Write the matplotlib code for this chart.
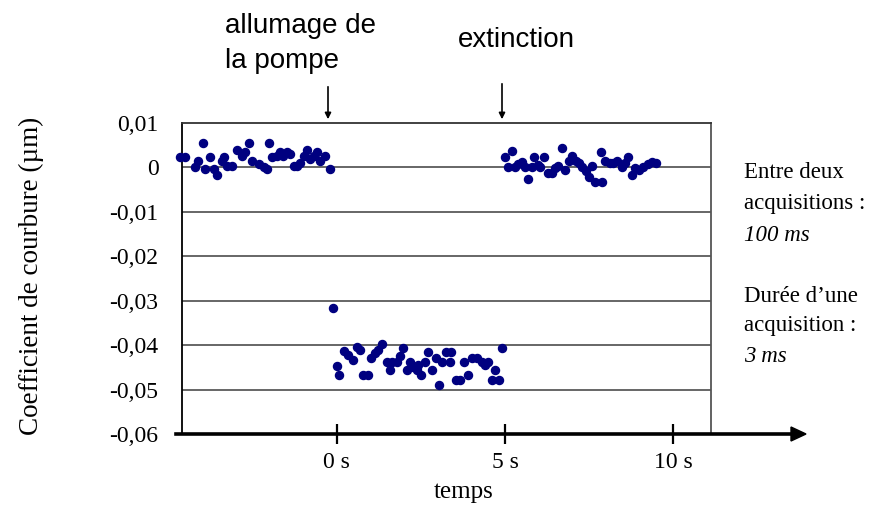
import matplotlib.pyplot as plt
import numpy as np

"""Coefficient de courbure - allumage / extinction de la pompe"""

# avant allumage
t_avant = [-4.67, -4.52, -4.23, -4.12, -4.00, -3.93, -3.78, -3.67, -3.57, -3.42,
           -3.36, -3.27, -3.13, -2.98, -2.83, -2.74, -2.63, -2.53, -2.33, -2.18,
           -2.08, -2.02, -1.93, -1.79, -1.70, -1.59, -1.49, -1.40, -1.29, -1.19,
           -1.10, -0.99, -0.89, -0.80, -0.69, -0.60, -0.51, -0.36, -0.21]
c_avant = [0.0024, 0.0024, 0.0000, 0.0015, 0.0055, -0.0003, 0.0024, -0.0003, -0.0017, 0.0015,
           0.0024, 0.0003, 0.0003, 0.0040, 0.0026, 0.0035, 0.0055, 0.0015, 0.0008, 0.0000,
           -0.0003, 0.0055, 0.0024, 0.0026, 0.0035, 0.0026, 0.0035, 0.0030, 0.0003, 0.0003,
           0.0010, 0.0026, 0.0040, 0.0020, 0.0026, 0.0035, 0.0015, 0.0026, -0.0003]

# pompe allumee
t_pompe = [-0.13, -0.01, 0.06, 0.21, 0.34, 0.49, 0.59, 0.68, 0.78, 0.91,
           1.01, 1.13, 1.23, 1.35, 1.48, 1.58, 1.63, 1.78, 1.88, 1.97,
           2.07, 2.17, 2.26, 2.37, 2.42, 2.50, 2.62, 2.70, 2.82, 2.94,
           3.04, 3.12, 3.26, 3.36, 3.39, 3.53, 3.66, 3.79, 3.91, 4.03,
           4.16, 4.31, 4.40, 4.50, 4.60, 4.70, 4.82, 4.92]
c_pompe = [-0.0316, -0.0446, -0.0468, -0.0414, -0.0423, -0.0433, -0.0405, -0.0412, -0.0468, -0.0468,
           -0.0429, -0.0417, -0.0412, -0.0397, -0.0437, -0.0455, -0.0437, -0.0437, -0.0425, -0.0406,
           -0.0455, -0.0437, -0.0450, -0.0455, -0.0444, -0.0468, -0.0437, -0.0415, -0.0455, -0.0428,
           -0.0489, -0.0438, -0.0415, -0.0438, -0.0415, -0.0478, -0.0478, -0.0438, -0.0467, -0.0428,
           -0.0428, -0.0437, -0.0444, -0.0437, -0.0478, -0.0455, -0.0478, -0.0406]

# apres extinction
t_apres = [5.00, 5.10, 5.20, 5.30, 5.40, 5.50, 5.60, 5.69, 5.79, 5.87,
           5.97, 6.04, 6.17, 6.29, 6.39, 6.49, 6.59, 6.69, 6.79, 6.90,
           7.00, 7.10, 7.20, 7.30, 7.40, 7.50, 7.60, 7.68, 7.86, 7.88,
           7.98, 8.13, 8.22, 8.32, 8.47, 8.57, 8.67, 8.77, 8.87, 8.99,
           9.12, 9.27, 9.38, 9.49]
c_apres = [0.0024, 0.0002, 0.0036, 0.0002, 0.0008, 0.0013, 0.0002, -0.0027, 0.0002, 0.0024,
           0.0006, 0.0002, 0.0024, -0.0013, -0.0013, -0.0002, 0.0003, 0.0043, -0.0006, 0.0015,
           0.0026, 0.0015, 0.0011, 0.0002, -0.0009, -0.0021, 0.0003, -0.0032, 0.0034, -0.0032,
           0.0015, 0.0011, 0.0011, 0.0015, 0.0002, 0.0011, 0.0024, -0.0017, -0.0002, -0.0006,
           0.0002, 0.0008, 0.0013, 0.0011]

y_ticks = [0.01, 0, -0.01, -0.02, -0.03, -0.04, -0.05, -0.06]
y_labels = ['0,01', '0', '-0,01', '-0,02', '-0,03', '-0,04', '-0,05', '-0,06']
x_ticks = [0, 5, 10]
x_labels = ['0 s', '5 s', '10 s']

serif = 'Liberation Serif'
sans = 'Liberation Sans'
W, H = 877, 508

fig = plt.figure(figsize=(W / 100, H / 100), dpi=100)
ax = fig.add_axes([182 / W, 1 - 434 / H, (711 - 182) / W, (434 - 123) / H])

for t, c in [(t_avant, c_avant), (t_pompe, c_pompe), (t_apres, c_apres)]:
    ax.plot(t, c, 'o', color='#000080', ms=5.8, mec='#000080', ls='none', clip_on=False, zorder=3)

ax.set_xlim(-4.61, 11.13)
ax.set_ylim(-0.06, 0.01)

for g in y_ticks[1:-1]:
    ax.axhline(g, color='#5a5a5a', lw=1.3, zorder=1)

ax.set_yticks(y_ticks)
ax.set_yticklabels(y_labels, fontsize=17, fontname=serif)
ax.tick_params(axis='y', length=0, pad=17)
ax.set_xticks(x_ticks)
ax.set_xticklabels(x_labels, fontsize=17, fontname=serif)
ax.tick_params(axis='x', direction='inout', length=14, width=1.6, pad=6, color='black')

ax.spines['bottom'].set_visible(False)
ax.spines['left'].set_color('black')
ax.spines['left'].set_linewidth(1.3)
ax.spines['top'].set_color('#333333')
ax.spines['top'].set_linewidth(1.3)
ax.spines['right'].set_color('#555555')
ax.spines['right'].set_linewidth(1.3)

# axe des temps avec fleche
yb = 1 - 434 / H
fig.add_artist(plt.Line2D([176 / W, 795 / W], [yb, yb], color='black', lw=2.6))
fig.add_artist(plt.Polygon([[791 / W, yb + 7 / H], [806 / W, yb], [791 / W, yb - 7 / H]],
                           closed=True, color='black'))

fig.text(31 / W, 1 - 276 / H, 'Coefficient de courbure (µm)', rotation=90,
         ha='center', va='center', fontsize=19.5, fontname=serif)
fig.text(464 / W, 1 - 492 / H, 'temps', ha='center', va='center', fontsize=18, fontname=serif)

# evenements
fig.text(225 / W, 1 - 33 / H, 'allumage de', ha='left', va='baseline', fontsize=20, fontname=sans)
fig.text(225 / W, 1 - 68 / H, 'la pompe', ha='left', va='baseline', fontsize=20, fontname=sans)
fig.text(458 / W, 1 - 47 / H, 'extinction', ha='left', va='baseline', fontsize=20, fontname=sans)
ax.annotate('', xy=(328 / W, 1 - 122 / H), xytext=(328 / W, 1 - 84 / H), xycoords='figure fraction',
            arrowprops=dict(arrowstyle='-|>', color='black', lw=1.2, mutation_scale=9))
ax.annotate('', xy=(502 / W, 1 - 122 / H), xytext=(502 / W, 1 - 81 / H), xycoords='figure fraction',
            arrowprops=dict(arrowstyle='-|>', color='black', lw=1.2, mutation_scale=9))

# commentaires a droite
notes = [('Entre deux', 172, 'normal'), ('acquisitions :', 203, 'normal'), ('100 ms', 235, 'italic'),
         ('Durée d’une', 296, 'normal'), ('acquisition :', 326, 'normal'), ('3 ms', 356, 'italic')]
for txt, y, st in notes:
    fig.text(744 / W, 1 - y / H, txt, ha='left', va='center', fontsize=16.5, fontname=serif, style=st)

plt.savefig('out.png', dpi=100)
